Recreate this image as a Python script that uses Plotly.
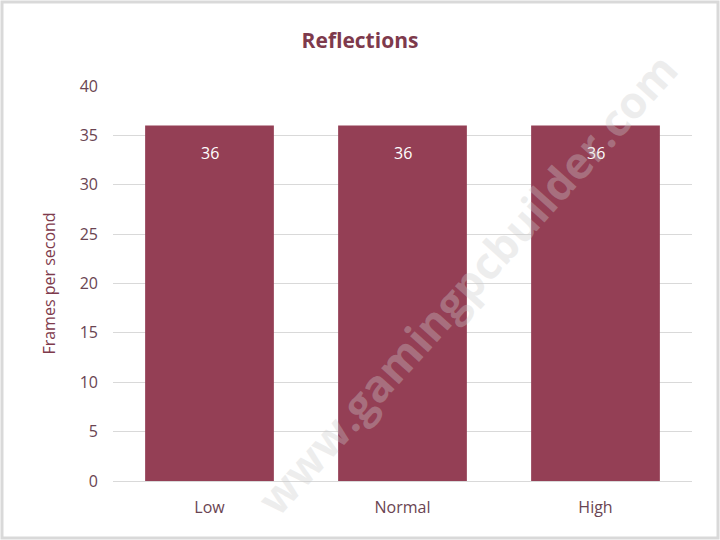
import plotly.graph_objects as go

categories = ["Low", "Normal", "High"]
fps = [36, 36, 36]
y_ticks = [0, 5, 10, 15, 20, 25, 30, 35, 40]

bar_color = "#943F55"
text_color = "#6A4452"

fig = go.Figure()
fig.add_trace(go.Bar(
    x=categories, y=fps, marker=dict(color=bar_color, line=dict(width=0)),
    hoverinfo="skip",
))

for c, v in zip(categories, fps):
    fig.add_annotation(x=c, y=v, text=str(v), showarrow=False, yanchor="top",
                       yshift=-14, font=dict(color="white", size=16, family="Open Sans"))

# watermark
fig.add_annotation(xref="paper", yref="paper", x=0.61, y=0.50,
                   text="<b>www.gamingpcbuilder.com</b>", showarrow=False, textangle=-48,
                   font=dict(size=44, color="rgba(205,205,205,0.35)", family="Open Sans"))

# outer border
fig.add_shape(type="rect", xref="paper", yref="paper",
              x0=-0.1917, x1=1.0449, y0=-0.1443, y1=1.2127,
              line=dict(color="#D9D9D9", width=3))

fig.update_layout(
    width=720, height=540,
    margin=dict(l=113, r=28, t=86, b=59),
    paper_bgcolor="white", plot_bgcolor="white",
    bargap=0.333,
    showlegend=False,
    title=dict(text="<b>Reflections</b>", x=0.5, xanchor="center", y=0.925, yanchor="middle",
               font=dict(size=21, color="#7E3A4C", family="Open Sans")),
    font=dict(family="Open Sans", color=text_color, size=16),
)
fig.update_yaxes(range=[0, 40], tickvals=y_ticks, showgrid=True, gridcolor="#D9D9D9",
                 gridwidth=1, zeroline=False, showline=False, ticks="",
                 ticklabelstandoff=14,
                 title=dict(text="Frames per second", font=dict(size=16, color="#7E3A4C"), standoff=20),
                 tickfont=dict(size=16, color=text_color))
fig.update_xaxes(showline=True, linecolor="#D9D9D9", linewidth=1, ticks="",
                 tickfont=dict(size=16, color=text_color), ticklabelstandoff=12)

fig.write_html("out.html", config={"displayModeBar": False},
               post_script="document.body.style.margin='0';document.body.style.padding='0';")
